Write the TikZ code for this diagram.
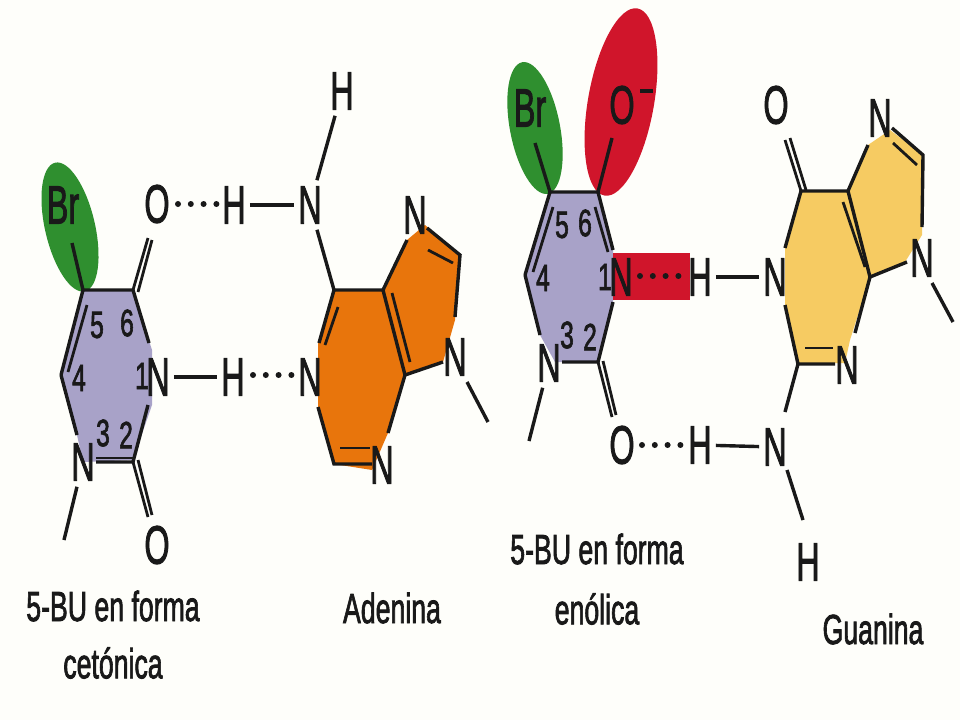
\documentclass[tikz,border=0pt]{standalone}
\usepackage{fontspec}
\usepackage{graphicx}
\usetikzlibrary{shapes.geometric}
\font\fA="Liberation Sans:embolden=2.2" at 54pt
\font\fD="Liberation Sans:embolden=2.2" at 38pt
\font\fT="Liberation Sans:embolden=2.2" at 42pt
\newcommand{\A}[1]{\scalebox{.6}[1]{\fA #1}}
\newcommand{\D}[1]{\scalebox{.65}[1]{\fD #1}}
\newcommand{\T}[1]{\scalebox{.635}[1]{\fT #1}}
\definecolor{bgc}{HTML}{FEFEFA}
\definecolor{lav}{HTML}{A8A2C8}
\definecolor{grn}{HTML}{2F8F2F}
\definecolor{org}{HTML}{E8750C}
\definecolor{rd}{HTML}{D0152B}
\definecolor{yel}{HTML}{F6CB62}
\tikzset{
  atom/.style={inner xsep=4pt,inner ysep=6pt,text=black!90},
  num/.style={inner sep=0pt,text=black!90},
  captext/.style={inner sep=0pt,text=black!90},
  bond/.style={draw=black!90,line width=3.4pt},
  thin bond/.style={draw=black!90,line width=2.8pt},
  hb/.style={draw=black!90,line width=6pt,line cap=round,dash pattern=on 0pt off 12.8pt},
  lobe/.style={ellipse,inner sep=0pt,draw=none},
}
\begin{document}
\begin{tikzpicture}[x=1pt,y=-1pt]
\fill[bgc] (0,0) rectangle (960,720);
\useasboundingbox (0,0) rectangle (960,720);
% ---- fills
\node[lobe,fill=grn,minimum width=50pt,minimum height=132pt,rotate=13] (lobeA) at (70,227) {};
\node[lobe,fill=grn,minimum width=50pt,minimum height=134pt,rotate=11] (lobeB) at (535,128) {};
\node[lobe,fill=rd,minimum width=66pt,minimum height=190pt,rotate=-10] (lobeC) at (621,102) {};
\fill[lav] (83,290)--(133,290)--(152,350)--(152,405)--(133,460)--(83,462)--(77,435)--(61,375)--cycle;
\fill[lav] (550,192)--(598,192)--(613,250)--(613,302)--(598,362)--(555,362)--(540,335)--(525,275)--cycle;
\fill[org] (334,290)--(383,290)--(407,240)--(425,225)--(460,255)--(455,320)--(443,362)--(405,375)--(388,433)--(372,470)--(334,464)--(318,407)--(318,343)--cycle;
\fill[yel] (801,191)--(848,191)--(868,145)--(890,130)--(923,155)--(922,235)--(905,262)--(870,277)--(850,340)--(845,363)--(798,363)--(785,305)--(785,248)--cycle;
\fill[rd] (613,253) rectangle (690,300);
% ---- ring vertices
\foreach \n/\p in {a5/{83,290},a6/{133,290},a1u/{149,343},a1d/{148,405},a2/{133,462},a3r/{96,462},a3l/{77,435},a4/{61,375},
  a4i/{68,372},a5i/{87,305},a6o/{148,238},a6p/{138,292},a6q/{152,240},a2o/{148,517},a2p/{138,460},a2q/{152,515},a3m/{64,540},
  a2i/{133,458},a3i/{96,458},aBr/{72,243},
  b6/{334,290},b5/{383,290},b1u/{319,343},b1d/{318,407},b2/{334,464},b3/{372,464},b2i/{340,448},b3i/{370,448},b3r/{388,433},b4/{405,375},
  b6i/{338,307},b1i/{325,345},b5i/{392,293},b4i/{410,362},b7/{407,240},b7r/{427,228},b8/{460,255},b7i/{428,250},b8i/{453,263},b9u/{455,317},b9l/{443,362},b9m/{467,382},bme/{488,422},
  c5/{550,192},c6/{598,192},c1u/{613,250},c1d/{613,302},c2/{598,362},c3r/{562,362},c3u/{540,335},c4/{525,275},
  c4i/{533,272},c5i/{553,207},c6i/{595,207},c1i/{608,252},c2o/{612,417},c2p/{603,361},c2q/{616,415},c3m/{529,441},cBr/{535,143},cO/{612,138},
  d6/{801,191},d5/{848,191},d1u/{785,248},d1d/{785,305},d2/{798,364},d3/{835,364},d2i/{805,348},d3i/{833,348},d3r/{855,333},d4/{870,277},
  d5i/{843,202},d4i/{865,267},d7/{868,145},d7r/{892,128},d8/{923,155},d7i/{893,143},d8i/{917,165},d9u/{922,227},d9l/{907,262},d9m/{932,283},dme/{953,322},
  d6o/{785,140},d6p/{806,190},d6q/{790,138},dna/{785,412},dnb/{787,470},dhb/{803,520},
  mA/{640,91},mB/{653,91},
  hA1/{178,204},hA2/{217,204},hB1/{253,375},hB2/{294,375},hC1/{640,276},hC2/{681,276},hD1/{642,445},hD2/{683,445}}
  {\coordinate (\n) at (\p);}
% ---- atoms left pair
\node[atom] (brA) at (63,205) {\A{Br}};
\node[atom] (oA) at (157,204) {\A{O}};
\node[atom] (hA) at (234,205) {\A{H}};
\node[atom] (nA) at (310,205) {\A{N}};
\node[atom] (hTop) at (342,91) {\A{H}};
\node[atom] (n1A) at (158,377) {\A{N}};
\node[atom] (hB) at (233,377) {\A{H}};
\node[atom] (nB) at (310,377) {\A{N}};
\node[atom] (n3A) at (83,462) {\A{N}};
\node[atom] (oB) at (157,545) {\A{O}};
\node[atom] (n7A) at (415,215) {\A{N}};
\node[atom] (n9A) at (455,357) {\A{N}};
\node[atom] (n3B) at (382,465) {\A{N}};
% ---- atoms right pair
\node[atom] (brB) at (530,108) {\A{Br}};
\node[atom] (oC) at (622,105) {\A{O}};
\node[atom] (n1C) at (621,277) {\A{N}};
\node[atom] (hC) at (700,277) {\A{H}};
\node[atom] (nC) at (775,277) {\A{N}};
\node[atom] (n3C) at (549,363) {\A{N}};
\node[atom] (oD) at (622,445) {\A{O}};
\node[atom] (hD) at (700,445) {\A{H}};
\node[atom] (nD) at (775,447) {\A{N}};
\node[atom] (hBot) at (808,562) {\A{H}};
\node[atom] (oE) at (776,105) {\A{O}};
\node[atom] (n7D) at (880,118) {\A{N}};
\node[atom] (n9D) at (922,258) {\A{N}};
\node[atom] (n3D) at (847,365) {\A{N}};
% ---- ring numbers
\foreach \n/\t/\p in {nA5/5/{97,325},nA6/6/{127,323},nA4/4/{79,378},nA3/3/{103,433},nA2/2/{126,435},nA1/1/{142,376},
  nC5/5/{562,225},nC6/6/{585,223},nC4/4/{543,278},nC3/3/{567,335},nC2/2/{590,337},nC1/1/{605,277}}
  {\node[num] (\n) at (\p) {\D{\t}};}
% ---- bonds, 5-BU keto
\draw[bond] (a4)--(a5)--(a6)--(a1u);
\draw[bond] (a1d)--(a2)--(a3r);
\draw[thin bond] (a2i)--(a3i);
\draw[bond] (a3l)--(a4);
\draw[thin bond] (a4i)--(a5i);
\draw[bond] (a5)--(aBr);
\draw[thin bond] (a6)--(a6o) (a6p)--(a6q);
\draw[thin bond] (a2)--(a2o) (a2p)--(a2q);
\draw[bond] (n3A)--(a3m);
\draw[bond] (n1A)--(hB);
\draw[bond] (hA)--(nA);
\draw[hb] (hA1)--(hA2);
\draw[hb] (hB1)--(hB2);
% ---- bonds, adenine
\draw[bond] (nA)--(hTop);
\draw[bond] (nA)--(b6);
\draw[bond] (b1u)--(b6)--(b5)--(b4)--(b3r);
\draw[bond] (b1d)--(b2)--(b3);
\draw[thin bond] (b2i)--(b3i);
\draw[thin bond] (b6i)--(b1i);
\draw[thin bond] (b5i)--(b4i);
\draw[bond] (b5)--(b7);
\draw[bond] (b7r)--(b8)--(b9u);
\draw[thin bond] (b7i)--(b8i);
\draw[bond] (b9l)--(b4);
\draw[bond] (b9m)--(bme);
% ---- bonds, 5-BU enol
\draw[bond] (c4)--(c5)--(c6)--(c1u);
\draw[bond] (c1d)--(c2)--(c3r);
\draw[bond] (c3u)--(c4);
\draw[thin bond] (c4i)--(c5i);
\draw[thin bond] (c6i)--(c1i);
\draw[bond] (c5)--(cBr);
\draw[bond] (c6)--(cO);
\draw[thin bond] (c2)--(c2o) (c2p)--(c2q);
\draw[bond] (n3C)--(c3m);
\draw[bond] (hC)--(nC);
\draw[bond] (hD)--(nD);
\draw[hb] (hC1)--(hC2);
\draw[hb] (hD1)--(hD2);
\draw[bond] (mA)--(mB);
% ---- bonds, guanine
\draw[bond] (d1u)--(d6)--(d5)--(d4)--(d3r);
\draw[bond] (d1d)--(d2)--(d3);
\draw[thin bond] (d2i)--(d3i);
\draw[thin bond] (d5i)--(d4i);
\draw[bond] (d5)--(d7);
\draw[bond] (d7r)--(d8)--(d9u);
\draw[thin bond] (d7i)--(d8i);
\draw[bond] (d9l)--(d4);
\draw[bond] (d9m)--(dme);
\draw[thin bond] (d6)--(d6o) (d6p)--(d6q);
\draw[bond] (d2)--(dna);
\draw[bond] (dnb)--(dhb);
% ---- captions
\node[captext] (t1) at (113,606) {\T{5-BU en forma}};
\node[captext] (t2) at (113,663) {\T{cetónica}};
\node[captext] (t3) at (392,608) {\T{Adenina}};
\node[captext] (t4) at (597,549) {\T{5-BU en forma}};
\node[captext] (t5) at (597,609) {\T{enólica}};
\node[captext] (t6) at (873,629) {\T{Guanina}};
\end{tikzpicture}
\end{document}
